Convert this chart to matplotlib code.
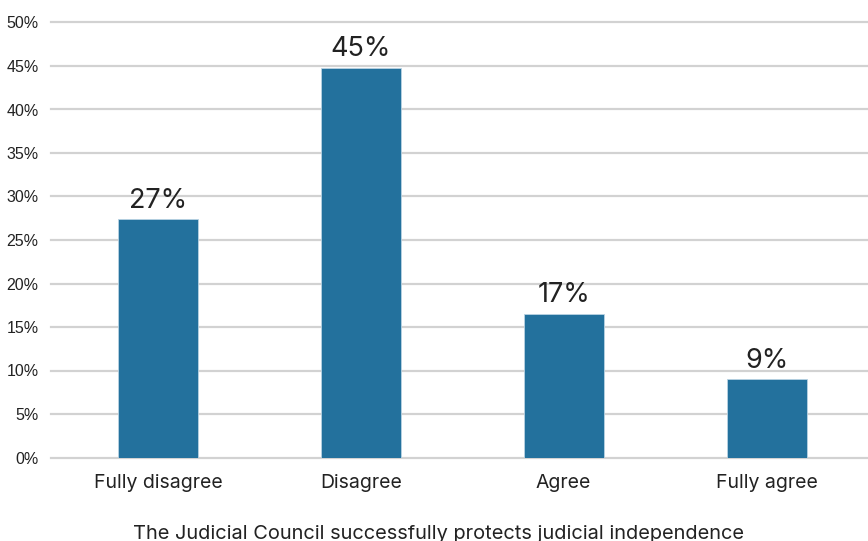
import matplotlib
matplotlib.use('Agg')
import matplotlib.pyplot as plt

# Data
categories = ['Fully disagree', 'Disagree', 'Agree', 'Fully agree']
values = [27.4, 44.8, 16.5, 9.0]
labels = ['27%', '45%', '17%', '9%']
yticks = [0, 5, 10, 15, 20, 25, 30, 35, 40, 45, 50]

bar_color = '#23719d'
text_color = '#222222'

fig = plt.figure(figsize=(8.68, 5.41), dpi=100)
ax = fig.add_axes([51 / 868, 1 - 457.5 / 541, 1 - 51 / 868, (457.5 - 22.5) / 541])

x = range(len(categories))
bars = ax.bar(x, values, width=0.394, color=bar_color, edgecolor='#b9d3e3',
              linewidth=0.6, zorder=3)

for b, lab in zip(bars, labels):
    ax.annotate(lab, (b.get_x() + b.get_width() / 2, b.get_height()),
                xytext=(0, 4), textcoords='offset points', ha='center', va='bottom',
                fontsize=19.5, family='Inter', color=text_color)

ax.set_ylim(0, 50)
ax.set_xlim(-0.527, 3.5)
ax.set_yticks(yticks)
ax.set_yticklabels([f'{t}%' for t in yticks], family='Liberation Sans', fontsize=11.5,
                   color=text_color)
ax.set_xticks(list(x))
ax.set_xticklabels(categories, family='Inter', fontsize=14, color=text_color)
ax.tick_params(axis='both', length=0)
ax.tick_params(axis='y', pad=9)
ax.tick_params(axis='x', pad=12)

ax.grid(axis='y', color='#d2d2d2', linewidth=1.6, zorder=0)
for gl in ax.get_ygridlines():
    gl.set_clip_on(False)
for s in ax.spines.values():
    s.set_visible(False)

ax.set_xlabel('The Judicial Council successfully protects judicial independence',
              family='Inter', fontsize=14.4, color=text_color, labelpad=23)
ax.xaxis.set_label_coords(0.474, -0.155)

fig.savefig('out.png', dpi=100)
